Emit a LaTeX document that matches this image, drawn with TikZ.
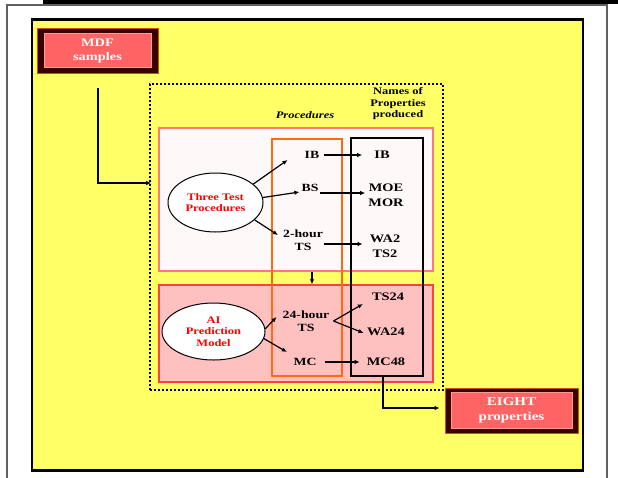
\documentclass[tikz,border=0pt]{standalone}
\usepackage{fontspec}
\setmainfont[FakeStretch=1.25]{Liberation Serif}
\usetikzlibrary{shapes.geometric,arrows.meta,calc}
\definecolor{bgyellow}{HTML}{FFFF66}
\definecolor{framegray}{HTML}{606060}
\definecolor{palepink}{HTML}{FFF8F8}
\definecolor{pinkfill}{HTML}{FFC0C0}
\definecolor{pinkedge}{HTML}{FF4040}
\definecolor{orangeedge}{HTML}{FF6A10}
\definecolor{maroon}{HTML}{3A0000}
\definecolor{boxred}{HTML}{FF6464}
\definecolor{boxredge}{HTML}{FF9A9A}
\definecolor{boxoutline}{HTML}{CC5500}
\begin{document}
\begin{tikzpicture}[x=1pt,y=-1pt,
  arr/.style={line width=1.2pt,-{Latex[length=5pt,width=4.5pt]}},
  proclbl/.style={inner sep=1pt,align=center,font=\bfseries\fontsize{11}{13}\selectfont},
  proplbl/.style={inner sep=1pt,align=center,font=\bfseries\fontsize{11.5}{15}\selectfont},
  hdr/.style={inner sep=1pt,align=center,font=\bfseries\fontsize{10}{11.5}\selectfont},
  ell/.style={ellipse,draw=black,line width=1pt,fill=white,inner sep=0pt,
    text=red,align=center,font=\bfseries\fontsize{10}{11.5}\selectfont},
  outerbox/.style={rectangle,fill=maroon,draw=boxoutline,line width=0.8pt,inner sep=0pt},
  innerbox/.style={rectangle,fill=boxred,draw=boxredge,line width=1pt,inner sep=0pt,
    text=white,align=center,font=\bfseries\fontsize{11.5}{14}\selectfont},
  region/.style={rectangle,inner sep=0pt}
]
\useasboundingbox (0,0) rectangle (618,477);
\fill[white] (0,0) rectangle (618,477);
% frames
\draw[framegray,line width=2pt] (7,478) -- (7,4.5) -- (607,4.5) -- (607,478);
\draw[black,line width=3.5pt] (43,1.8) -- (618,1.8);
\node[region,fill=bgyellow,draw=black,line width=2.5pt,minimum width=551pt,minimum height=451pt] (yellow) at (307.5,245) {};
% dotted group
\node[region,draw=black,line width=1.6pt,dash pattern=on 1.6pt off 2.4pt,minimum width=293pt,minimum height=306pt] (group) at (296.5,237) {};
% pink regions
\node[region,fill=palepink,draw=pinkedge!70,line width=1.2pt,minimum width=274pt,minimum height=143pt] (pa) at (296,199.5) {};
\node[region,fill=pinkfill,draw=pinkedge,line width=1.4pt,minimum width=274pt,minimum height=97pt] (pb) at (296,333.5) {};
% columns
\node[region,draw=orangeedge,line width=1.4pt,minimum width=70pt,minimum height=237pt] (proccol) at (307,257.5) {};
\node[region,draw=black,line width=2.2pt,minimum width=72pt,minimum height=238pt] (names) at (387,257) {};
% headers
\node[hdr,font=\bfseries\itshape\fontsize{10}{11.5}\selectfont] (procH) at (305,115) {Procedures};
\node[hdr] (namesH) at (398,104) {Names of\\Properties\\produced};
% ellipses
\node[ell,minimum width=95pt,minimum height=59pt] (tt) at (215.5,202.5) {Three Test\\Procedures};
\node[ell,minimum width=103pt,minimum height=57pt] (ai) at (213.5,331.5) {AI\\Prediction\\Model};
% procedure labels
\node[proclbl] (ibL) at (312,155) {IB};
\node[proclbl] (bsL) at (310,188) {BS};
\node[proclbl] (two) at (303,240) {2-hour\\TS};
\node[proclbl] (tf) at (306,321) {24-hour\\TS};
\node[proclbl] (mc) at (305,362) {MC};
% property labels
\node[proplbl] (ibR) at (382,155) {IB};
\node[proplbl] (moe) at (386,195.5) {MOE\\MOR};
\node[proplbl] (wa2) at (385,246) {WA2\\TS2};
\node[proplbl] (ts24) at (388,297) {TS24};
\node[proplbl] (wa24) at (386,332) {WA24};
\node[proplbl] (mc48) at (386,362) {MC48};
% boxes
\node[outerbox,minimum width=121pt,minimum height=45pt] (mdfo) at (97.5,50.5) {};
\node[innerbox,minimum width=107pt,minimum height=34pt] (mdf) at (mdfo.center) {MDF\\samples};
\node[outerbox,minimum width=133pt,minimum height=45pt] (eighto) at (511.5,410.5) {};
\node[innerbox,minimum width=121pt,minimum height=36pt,font=\bfseries\fontsize{12}{15}\selectfont] (eight) at (eighto.center) {EIGHT\\properties};
% connectors
\draw[arr] (tt.26) -- ($(ibL.west)+(-16,5)$);
\draw[arr] (tt.6) -- ($(bsL.west)+(-1,4)$);
\draw[arr] (tt.336) -- ($(two.west)+(-4,-5)$);
\draw[arr] ($(ibL.east)+(4,0)$) -- ($(ibR.west)+(-11,0)$);
\draw[arr] ($(bsL.east)+(0,5)$) -- ($(moe.west)+(-2,-2.5)$);
\draw[arr] ($(two.east)+(0,4)$) -- ($(wa2.west)+(-6,-2)$);
\draw[arr] ($(pa.south)+(16,0)$) -- ($(pb.north)+(16,0)$);
\draw[arr] (ai.3) -- ($(tf.west)+(-5,-4)$);
\draw[arr] (ai.352) -- ($(mc.west)+(-5.5,-10)$);
\draw[arr] ($(tf.east)+(3,0)$) -- ($(ts24.west)+(-8,7)$);
\draw[arr] ($(tf.east)+(3,0)$) -- ($(wa24.west)+(-2.5,1)$);
\draw[arr] ($(mc.east)+(7,0)$) -- ($(mc48.west)+(-6,0)$);
\coordinate (mdfbend) at (98,183);
\draw[arr] ($(mdfo.south)+(0.5,15)$) -- (mdfbend) -- ($(group.west |- mdfbend)+(2,0)$);
\coordinate (eightbend) at (383,408);
\draw[arr] (eightbend |- names.south) -- (eightbend) -- ($(eighto.west |- eightbend)+(-5,0)$);
\end{tikzpicture}
\end{document}
